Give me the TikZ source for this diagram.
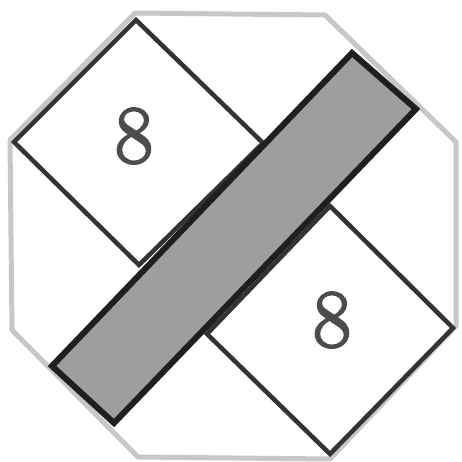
\documentclass[tikz,border=0pt]{standalone}
\usepackage{fontspec}
\newfontfamily\digitfont{Latin Modern Roman}[FakeBold=3]
\begin{document}
\begin{tikzpicture}[x=1pt,y=-1pt,
  octa/.style={draw=black!22,line width=5pt,line join=round},
  sqbox/.style={draw=black!80,line width=4.5pt,fill=white,line join=miter},
  bandbox/.style={draw=black!88,line width=6pt,fill=black!38,line join=miter},
  digit/.style={text=black!70,font=\fontsize{82}{82}\digitfont,inner sep=0pt}]
\useasboundingbox (0,0) rectangle (461,462);
\fill[white] (0,0) rectangle (461,462);
% octagon
\coordinate (o1) at (135,13);
\coordinate (o2) at (325,15);
\coordinate (o3) at (456,142);
\coordinate (o4) at (456,326);
\coordinate (o5) at (330,459);
\coordinate (o6) at (138,457);
\coordinate (o7) at (12,330);
\coordinate (o8) at (10,140);
\draw[octa] (o1) -- (o2) -- (o3) -- (o4) -- (o5) -- (o6) -- (o7) -- (o8) -- cycle;
% squares
\coordinate (a1) at (136,20);
\coordinate (a2) at (263,143);
\coordinate (a3) at (139,265);
\coordinate (a4) at (14,142);
\draw[sqbox] (a1) -- (a2) -- (a3) -- (a4) -- cycle;
\coordinate (b1) at (330,206);
\coordinate (b2) at (453,328);
\coordinate (b3) at (330,454);
\coordinate (b4) at (207,334);
\draw[sqbox] (b1) -- (b2) -- (b3) -- (b4) -- cycle;
% band
\coordinate (c1) at (52,366);
\coordinate (c2) at (352,53);
\coordinate (c3) at (416,109);
\coordinate (c4) at (114,423);
\draw[bandbox] (c1) -- (c2) -- (c3) -- (c4) -- cycle;
% digits
\node[digit] (d1) at (134,136) {8};
\node[digit] (d2) at (332,320) {8};
\end{tikzpicture}
\end{document}
